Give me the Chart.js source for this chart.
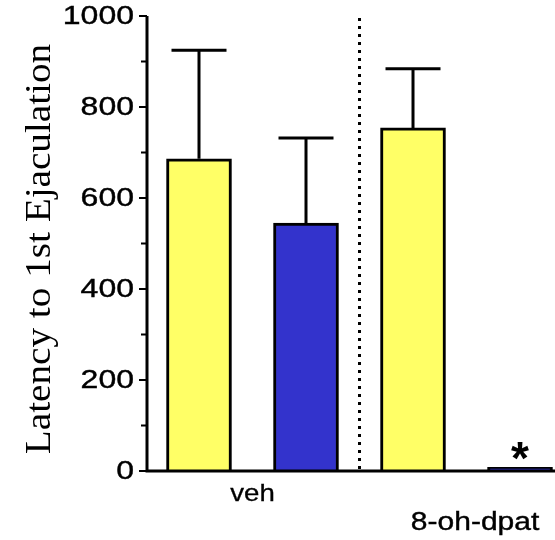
<!DOCTYPE html>
<html>
<head>
<meta charset="utf-8">
<script src="https://cdn.jsdelivr.net/npm/chart.js@4"></script>
<style>
  html, body { margin: 0; padding: 0; background: #fff; }
  #wrap { width: 555px; height: 540px; position: relative; }
</style>
</head>
<body>
<div id="wrap"><canvas id="c" width="555" height="540"></canvas></div>
<script>
// ---- data ----
const categories = ['veh', 'veh', '8-oh-dpat', '8-oh-dpat'];
const groupLabels = ['veh', '8-oh-dpat'];
const barPositions = [1, 2, 3, 4];
const means = [686, 545, 754, 8];
const errorTops = [925, 732, 884, null];
const barColors = ['#FFFF66', '#3333CC', '#FFFF66', '#3333CC'];
const yTickLabels = [0, 200, 400, 600, 800, 1000];
const yMinorTicks = [100, 300, 500, 700, 900];
const significance = ['', '', '', '*'];
const yTitle = 'Latency to 1st Ejaculation';

function drawStretched(ctx, text, x, y, sx, font, align, baseline, weight) {
  ctx.save();
  ctx.translate(x, y);
  ctx.scale(sx, 1);
  ctx.font = font;
  ctx.textAlign = align;
  ctx.textBaseline = baseline;
  ctx.fillStyle = '#000';
  ctx.fillText(text, 0, 0);
  if (weight) {
    ctx.strokeStyle = '#000';
    ctx.lineWidth = weight;
    ctx.strokeText(text, 0, 0);
  }
  ctx.restore();
}

const decor = {
  id: 'decor',
  afterDatasetsDraw(chart) {
    const ctx = chart.ctx;
    const xs = chart.scales.x, ys = chart.scales.y;
    const area = chart.chartArea;
    ctx.save();
    // error bars
    ctx.strokeStyle = '#000';
    ctx.lineWidth = 3;
    ctx.lineCap = 'butt';
    errorTops.forEach((e, i) => {
      if (e == null) return;
      const px = xs.getPixelForValue(barPositions[i]);
      const pTop = ys.getPixelForValue(e);
      const pBar = ys.getPixelForValue(means[i]);
      ctx.beginPath();
      ctx.moveTo(px, pBar);
      ctx.lineTo(px, pTop);
      ctx.moveTo(px - 27.5, pTop);
      ctx.lineTo(px + 27.5, pTop);
      ctx.stroke();
    });
    // dotted divider between groups
    const dx = xs.getPixelForValue(2.5);
    ctx.setLineDash([3, 5]);
    ctx.lineWidth = 3;
    ctx.beginPath();
    ctx.moveTo(dx, area.top + 2);
    ctx.lineTo(dx, area.bottom);
    ctx.stroke();
    ctx.setLineDash([]);
    // axes
    ctx.lineWidth = 3;
    ctx.beginPath();
    ctx.moveTo(area.left, area.top);
    ctx.lineTo(area.left, area.bottom + 1.5);
    ctx.moveTo(area.left - 1.5, area.bottom);
    ctx.lineTo(area.right, area.bottom);
    ctx.stroke();
    // tick marks
    ctx.lineWidth = 2;
    ctx.beginPath();
    yTickLabels.forEach(v => {
      const py = ys.getPixelForValue(v);
      ctx.moveTo(area.left - 8, py);
      ctx.lineTo(area.left, py);
    });
    yMinorTicks.forEach(v => {
      const py = ys.getPixelForValue(v);
      ctx.moveTo(area.left - 6, py);
      ctx.lineTo(area.left, py);
    });
    ctx.stroke();
    // tick labels
    yTickLabels.forEach(v => {
      const py = ys.getPixelForValue(v);
      drawStretched(ctx, String(v), area.left - 13, py + 1, 1.28,
        '25px "Liberation Sans", Arial, sans-serif', 'right', 'middle', 0.4);
    });
    // y title
    ctx.save();
    ctx.translate(41, 249);
    ctx.rotate(-Math.PI / 2);
    ctx.scale(1.12, 1);
    ctx.font = '35px "Liberation Serif", "Times New Roman", serif';
    ctx.textAlign = 'center';
    ctx.textBaseline = 'middle';
    ctx.fillStyle = '#000';
    ctx.fillText(yTitle, 0, 0);
    ctx.restore();
    // group labels
    drawStretched(ctx, groupLabels[0], xs.getPixelForValue(1.5), area.bottom + 23, 1.15,
      '24px "Liberation Sans", Arial, sans-serif', 'center', 'middle', 0.3);
    drawStretched(ctx, groupLabels[1], xs.getPixelForValue(3.58), area.bottom + 52, 1.2,
      '25px "Liberation Sans", Arial, sans-serif', 'center', 'middle', 0.4);
    // significance marks
    significance.forEach((s, i) => {
      if (!s) return;
      const px = xs.getPixelForValue(barPositions[i]);
      drawStretched(ctx, s, px, area.bottom + 3, 1.0,
        'bold 46px "Liberation Sans", Arial, sans-serif', 'center', 'alphabetic');
    });
    ctx.restore();
  }
};

new Chart(document.getElementById('c'), {
  type: 'bar',
  data: {
    labels: categories,
    datasets: [{
      data: barPositions.map((x, i) => ({ x: x, y: means[i] })),
      backgroundColor: barColors,
      borderColor: '#000',
      borderWidth: 3,
      borderSkipped: 'start',
      barThickness: 65
    }]
  },
  options: {
    responsive: false,
    animation: false,
    events: [],
    layout: { padding: { top: 16, left: 0, right: 0, bottom: 0 } },
    plugins: { legend: { display: false }, tooltip: { enabled: false } },
    scales: {
      x: {
        type: 'linear',
        offset: false,
        min: 0.514,
        max: 4.327,
        ticks: { display: false },
        grid: { display: false },
        border: { display: false },
        afterFit(scale) { scale.height = 69; }
      },
      y: {
        min: 0,
        max: 1000,
        ticks: { display: false, stepSize: 100 },
        grid: { display: false },
        border: { display: false },
        afterFit(scale) { scale.width = 147; }
      }
    }
  },
  plugins: [decor]
});
</script>
</body>
</html>
